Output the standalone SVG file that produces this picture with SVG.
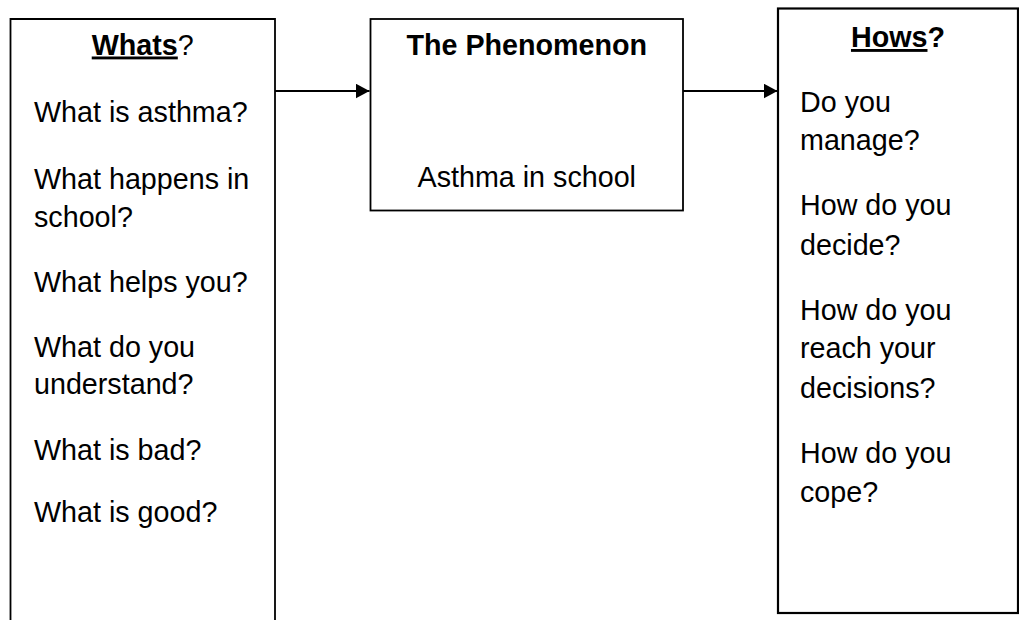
<svg xmlns="http://www.w3.org/2000/svg" width="1019" height="620" viewBox="0 0 1019 620">
  <style>
    .box { fill: #ffffff; stroke: #000000; stroke-width: 1.8; }
    .txt { font-family: "Liberation Sans", Arial, sans-serif; font-size: 28.7px; fill: #000000; }
    .head { font-weight: bold; }
    .ul { text-decoration: underline; }
    .mid { text-anchor: middle; }
    .conn { stroke: #000000; stroke-width: 2; fill: none; }
  </style>
  <defs>
    <marker id="arrow" markerUnits="userSpaceOnUse" markerWidth="15" markerHeight="16" refX="14" refY="7.5" orient="auto">
      <path d="M0,0 L14,7.5 L0,15 Z" fill="#000000"/>
    </marker>
  </defs>
  <rect width="1019" height="620" fill="#ffffff"/>

  <!-- Left column: the "what" questions (box runs past the bottom edge) -->
  <g id="whats">
    <path class="box" d="M10.5,625 V19 H275 V625"/>
    <text class="txt mid" x="142.75" y="54.5"><tspan class="head ul">Whats</tspan>?</text>
    <text class="txt" x="34" y="122">What is asthma?</text>
    <text class="txt" x="34" y="189">What happens in</text>
    <text class="txt" x="34" y="227">school?</text>
    <text class="txt" x="34" y="292">What helps you?</text>
    <text class="txt" x="34" y="357">What do you</text>
    <text class="txt" x="34" y="394">understand?</text>
    <text class="txt" x="34" y="460">What is bad?</text>
    <text class="txt" x="34" y="522">What is good?</text>
  </g>

  <!-- Centre: the phenomenon -->
  <g id="phenomenon">
    <rect class="box" x="370.5" y="19" width="312.5" height="191.5"/>
    <text class="txt head mid" x="526.75" y="55">The Phenomenon</text>
    <text class="txt mid" x="526.75" y="187">Asthma in school</text>
  </g>

  <!-- Right column: the "how" questions -->
  <g id="hows">
    <rect class="box" x="778" y="8.5" width="240" height="604.5" style="stroke-width:2.2"/>
    <text class="txt head mid" x="898" y="47"><tspan class="ul">Hows</tspan>?</text>
    <text class="txt" x="800" y="112">Do you</text>
    <text class="txt" x="800" y="150">manage?</text>
    <text class="txt" x="800" y="215">How do you</text>
    <text class="txt" x="800" y="255">decide?</text>
    <text class="txt" x="800" y="320">How do you</text>
    <text class="txt" x="800" y="358">reach your</text>
    <text class="txt" x="800" y="398">decisions?</text>
    <text class="txt" x="800" y="463">How do you</text>
    <text class="txt" x="800" y="502">cope?</text>
  </g>

  <!-- Connectors -->
  <g id="connectors">
    <line class="conn" x1="275" y1="91" x2="369.5" y2="91" marker-end="url(#arrow)"/>
    <line class="conn" x1="683" y1="91" x2="777.5" y2="91" marker-end="url(#arrow)"/>
  </g>
</svg>
